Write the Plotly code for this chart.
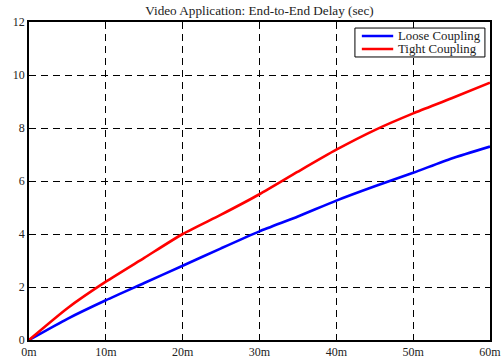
import plotly.graph_objects as go

time_min = [0, 5, 10, 15, 20, 25, 30, 35, 40, 45, 50, 55, 60]
loose = [0, 0.8, 1.5, 2.15, 2.8, 3.46, 4.1, 4.66, 5.26, 5.8, 6.31, 6.85, 7.3]
tight = [0, 1.2, 2.2, 3.1, 4.0, 4.73, 5.5, 6.35, 7.18, 7.92, 8.55, 9.12, 9.71]
x_ticks = [0, 10, 20, 30, 40, 50, 60]
x_labels = ["0m", "10m", "20m", "30m", "40m", "50m", "60m"]
y_ticks = [0, 2, 4, 6, 8, 10, 12]
series_names = ["Loose Coupling", "Tight Coupling"]
series_colors = ["#0000ff", "#ff0000"]

family = "Liberation Serif, Times New Roman, serif"
font = dict(family=family, size=12, color="#222")

fig = go.Figure()
for name, ys, col in zip(series_names, [loose, tight], series_colors):
    fig.add_trace(go.Scatter(x=time_min, y=ys, mode="lines", name=name, showlegend=False,
                             line=dict(color=col, width=2.6, shape="spline", smoothing=0.6)))

axis_common = dict(showline=True, linecolor="black", linewidth=1.5, mirror="ticks",
                   ticks="inside", ticklen=5, tickcolor="black", automargin=False,
                   showgrid=True, gridcolor="black", griddash="7px,5px", gridwidth=1,
                   zeroline=False, tickfont=font)
fig.update_xaxes(range=[0, 60], tickvals=x_ticks, ticktext=x_labels, ticklabelstandoff=0,
                 **axis_common)
fig.update_yaxes(range=[0, 12], tickvals=y_ticks, **axis_common)

# legend box (layout decoration)
shapes = [dict(type="rect", xref="paper", yref="paper", x0=0.707, x1=0.989, y0=0.890, y1=0.981,
               line=dict(color="black", width=1), fillcolor="white", layer="above")]
annotations = []
for i, (name, col) in enumerate(zip(series_names, series_colors)):
    yy = 0.956 - i * 0.041
    shapes.append(dict(type="line", xref="paper", yref="paper", x0=0.722, x1=0.790, y0=yy, y1=yy,
                       line=dict(color=col, width=2.6), layer="above"))
    annotations.append(dict(text=name, xref="paper", yref="paper", x=0.796, y=yy,
                            xanchor="left", yanchor="middle", showarrow=False,
                            font=dict(family=family, size=12.8, color="#222")))

fig.update_layout(
    width=503, height=358,
    margin=dict(l=29, r=13, t=22, b=18),
    paper_bgcolor="white", plot_bgcolor="white",
    font=font,
    title=dict(text="Video Application: End-to-End Delay (sec)", x=0.5, xanchor="center",
               xref="paper", y=0.97, yanchor="middle", font=dict(size=13.2)),
    showlegend=False,
    shapes=shapes,
    annotations=annotations,
)
fig.write_html("out.html", config={"displayModeBar": False},
               post_script="document.body.style.margin='0';document.body.style.padding='0';document.body.style.overflow='hidden';")
